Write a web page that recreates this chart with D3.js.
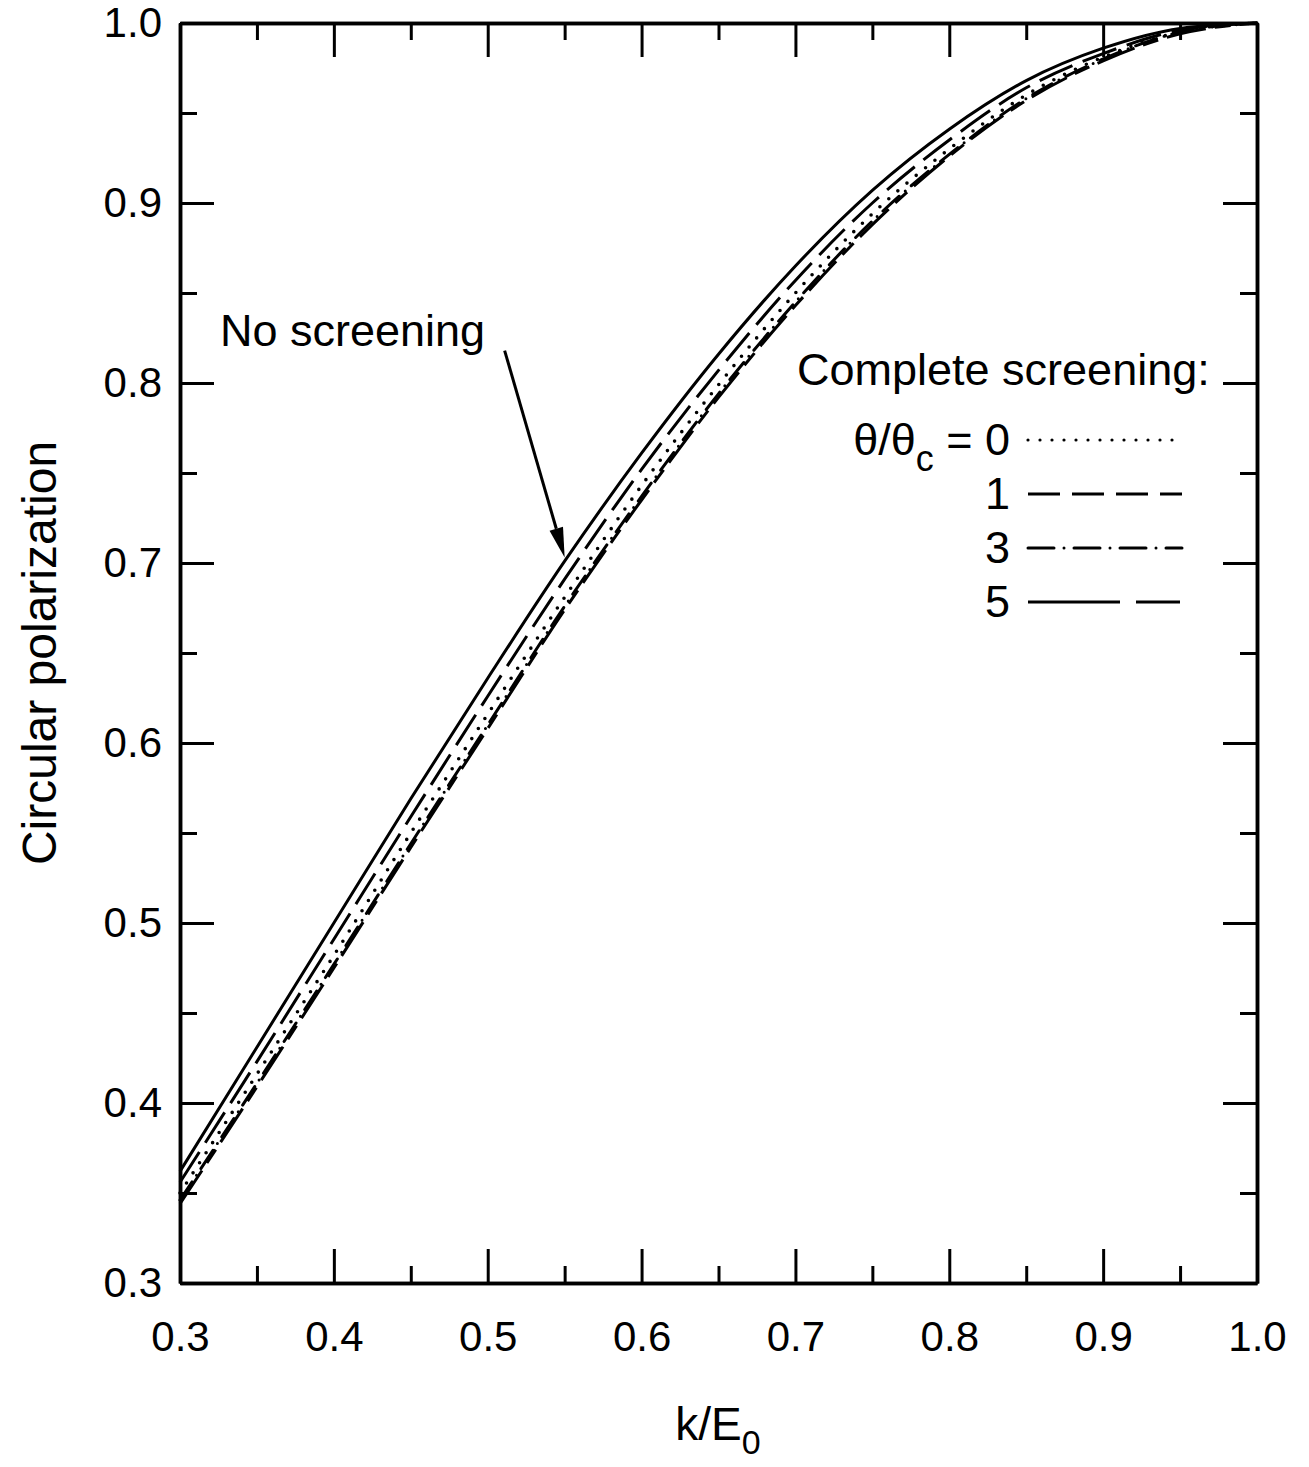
<!DOCTYPE html>
<html>
<head>
<meta charset="utf-8">
<script src="https://cdn.jsdelivr.net/npm/d3@7"></script>
<style>
  html, body { margin: 0; padding: 0; background: #fff; }
  svg { display: block; font-family: "Liberation Sans", Arial, Helvetica, sans-serif; }
</style>
</head>
<body>
<svg id="chart" width="1309" height="1467"></svg>
<script>
// photon energy fraction k/E0
const kFrac = [0.30, 0.35, 0.40, 0.45, 0.50, 0.55, 0.60, 0.65, 0.70, 0.75, 0.80, 0.85, 0.90, 0.95, 1.00];

// circular polarization, no screening
const noScreening = [0.362, 0.431, 0.500, 0.569, 0.636, 0.701, 0.761, 0.816, 0.865, 0.907, 0.941, 0.968, 0.986, 0.997, 1.000];

// circular polarization, complete screening, by theta/theta_c
const theta0 = [0.350, 0.416, 0.482, 0.550, 0.616, 0.681, 0.743, 0.799, 0.850, 0.894, 0.930, 0.960, 0.981, 0.995, 1.000];
const theta1 = [0.356, 0.423, 0.491, 0.559, 0.626, 0.691, 0.752, 0.807, 0.857, 0.900, 0.935, 0.964, 0.983, 0.996, 1.000];
const theta3 = [0.346, 0.411, 0.477, 0.544, 0.610, 0.676, 0.737, 0.794, 0.845, 0.890, 0.927, 0.958, 0.980, 0.995, 1.000];
const theta5 = [0.344, 0.409, 0.475, 0.542, 0.608, 0.674, 0.735, 0.792, 0.843, 0.888, 0.926, 0.957, 0.979, 0.994, 1.000];

const legendLabels = ["0", "1", "3", "5"];
const majorTicks = [0.3, 0.4, 0.5, 0.6, 0.7, 0.8, 0.9, 1.0];
const minorTicks = [0.35, 0.45, 0.55, 0.65, 0.75, 0.85, 0.95];

const svg = d3.select("#chart");
const x = d3.scaleLinear().domain([0.3, 1.0]).range([180, 1257]);
const y = d3.scaleLinear().domain([0.3, 1.0]).range([1283, 23]);
const fmt = d3.format(".1f");

const series = [
  { values: noScreening, dash: null },
  { values: theta1, dash: "36,11" },
  { values: theta0, dash: "0,12" , cap: "round", width: 3.6 },
  { values: theta3, dash: "22,8,0,8", cap: "round" },
  { values: theta5, dash: "40,9,16,9" }
];

const line = d3.line().curve(d3.curveMonotoneX);

const curves = svg.append("g").attr("fill", "none").attr("stroke", "#000");
series.forEach(s => {
  curves.append("path")
    .attr("d", line(kFrac.map((k, i) => [x(k), y(s.values[i])])))
    .attr("stroke-width", s.width || 3)
    .attr("stroke-dasharray", s.dash)
    .attr("stroke-linecap", s.cap || "butt");
});

// axes with inward ticks on all four sides
function styleAxis(g) {
  g.selectAll("path.domain").attr("stroke", "#000").attr("stroke-width", 3.5);
  g.selectAll(".tick line").attr("stroke", "#000").attr("stroke-width", 3);
  g.selectAll(".tick text").attr("fill", "#000").attr("font-size", 42)
    .attr("font-family", "Liberation Sans, Arial, sans-serif");
}

const bottom = svg.append("g").attr("transform", "translate(0,1283)")
  .call(d3.axisBottom(x).tickValues(majorTicks).tickFormat(fmt).tickSizeInner(-34).tickSizeOuter(0).tickPadding(38));
styleAxis(bottom);
svg.append("g").attr("transform", "translate(0,1283)")
  .call(d3.axisBottom(x).tickValues(minorTicks).tickFormat("").tickSizeInner(-17).tickSizeOuter(0))
  .call(styleAxis);

svg.append("g").attr("transform", "translate(0,23)")
  .call(d3.axisTop(x).tickValues(majorTicks).tickFormat("").tickSizeInner(-34).tickSizeOuter(0))
  .call(styleAxis);
svg.append("g").attr("transform", "translate(0,23)")
  .call(d3.axisTop(x).tickValues(minorTicks).tickFormat("").tickSizeInner(-17).tickSizeOuter(0))
  .call(styleAxis);

const left = svg.append("g").attr("transform", "translate(180,0)")
  .call(d3.axisLeft(y).tickValues(majorTicks).tickFormat(fmt).tickSizeInner(-34).tickSizeOuter(0).tickPadding(18));
styleAxis(left);
svg.append("g").attr("transform", "translate(180,0)")
  .call(d3.axisLeft(y).tickValues(minorTicks).tickFormat("").tickSizeInner(-17).tickSizeOuter(0))
  .call(styleAxis);

svg.append("g").attr("transform", "translate(1257,0)")
  .call(d3.axisRight(y).tickValues(majorTicks).tickFormat("").tickSizeInner(-34).tickSizeOuter(0))
  .call(styleAxis);
svg.append("g").attr("transform", "translate(1257,0)")
  .call(d3.axisRight(y).tickValues(minorTicks).tickFormat("").tickSizeInner(-17).tickSizeOuter(0))
  .call(styleAxis);

// axis titles
svg.append("text")
  .attr("transform", "translate(56,653) rotate(-90)")
  .attr("text-anchor", "middle")
  .attr("font-size", 48)
  .text("Circular polarization");

const xt = svg.append("text")
  .attr("x", 718).attr("y", 1440)
  .attr("text-anchor", "middle")
  .attr("font-size", 46);
xt.append("tspan").text("k/E");
xt.append("tspan").attr("font-size", 34).attr("dy", 14).text("0");

// annotation for the unscreened curve
svg.append("text")
  .attr("x", 220).attr("y", 346)
  .attr("font-size", 45)
  .text("No screening");

const a0 = [x(0.511), y(0.818)];
const a1 = [x(0.550), y(0.703)];
const ang = Math.atan2(a1[1] - a0[1], a1[0] - a0[0]);
const headLen = 30, headHalf = 7;
const base = [a1[0] - headLen * Math.cos(ang), a1[1] - headLen * Math.sin(ang)];
svg.append("line")
  .attr("x1", a0[0]).attr("y1", a0[1])
  .attr("x2", base[0]).attr("y2", base[1])
  .attr("stroke", "#000").attr("stroke-width", 3);
svg.append("path")
  .attr("d", d3.line()([
    a1,
    [base[0] + headHalf * Math.sin(ang), base[1] - headHalf * Math.cos(ang)],
    [base[0] - headHalf * Math.sin(ang), base[1] + headHalf * Math.cos(ang)]
  ]) + "Z")
  .attr("fill", "#000");

// legend
svg.append("text")
  .attr("x", 797).attr("y", 385)
  .attr("font-size", 45)
  .text("Complete screening:");

const legendRows = [
  { label: legendLabels[0], dash: "0,12", cap: "round", width: 3.2, y: 440, prefix: true },
  { label: legendLabels[1], dash: "32,12", y: 494 },
  { label: legendLabels[2], dash: "26,10,0,10", cap: "round", y: 548 },
  { label: legendLabels[3], dash: "92,16,44,16", y: 602 }
];

legendRows.forEach(r => {
  const t = svg.append("text")
    .attr("x", 1010).attr("y", r.y + 15)
    .attr("text-anchor", "end")
    .attr("font-size", 45);
  if (r.prefix) {
    t.append("tspan").text("θ/θ");
    t.append("tspan").attr("font-size", 36).attr("dy", 16).text("c");
    t.append("tspan").attr("dy", -16).text(" = " + r.label);
  } else {
    t.text(r.label);
  }
  svg.append("line")
    .attr("x1", 1028).attr("x2", 1182)
    .attr("y1", r.y).attr("y2", r.y)
    .attr("stroke", "#000")
    .attr("stroke-width", r.width || 3)
    .attr("stroke-dasharray", r.dash)
    .attr("stroke-linecap", r.cap || "butt");
});
</script>
</body>
</html>
